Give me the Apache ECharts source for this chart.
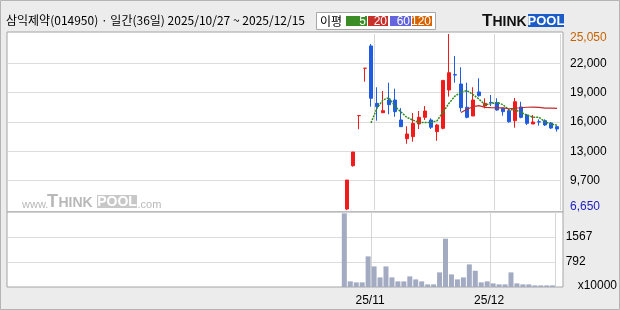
<!DOCTYPE html>
<html><head><meta charset="utf-8">
<script src="https://cdn.jsdelivr.net/npm/echarts@6/dist/echarts.min.js"></script>
<style>html,body{margin:0;padding:0;background:#ececec}#c{width:620px;height:310px}</style>
</head><body><div id="c"></div>
<script>
// ---- data ----
const dates = ['10/27','10/28','10/29','10/30','10/31','11/03','11/04','11/05','11/06','11/07','11/10','11/11','11/12','11/13','11/14','11/17','11/18','11/19','11/20','11/21','11/24','11/25','11/26','11/27','11/28','12/01','12/02','12/03','12/04','12/05','12/08','12/09','12/10','12/11','12/12','12/15'];
const openP  = [6750,11280,16520,21470,23800,17800,16820,18150,18150,16060,14100,14320,15640,16340,16060,14840,15190,19200,20800,19820,17390,16480,18990,17520,17900,17870,17280,17030,15990,17420,16580,15640,15880,15990,15750,15360];
const closeP = [9780,12710,16520,21470,18330,17450,17030,17660,16930,15360,14600,15710,16340,17000,15300,15540,20200,21000,20760,17350,16340,18150,18600,17800,17850,17100,16930,15880,17970,16340,15710,15850,15850,15540,15220,15120];
const lowP   = [6650,11180,15100,20060,17450,15990,16820,16660,16400,15360,13580,13790,15120,16060,15120,13890,15090,18500,19960,16930,16240,16480,18500,17280,17520,17030,16510,15780,15250,16240,15540,15640,15460,15430,15120,14840];
const highP  = [9780,12710,16520,21470,24000,19480,19090,19960,19330,17300,15400,16790,17000,17520,16240,15650,20200,25050,22750,21570,19960,19480,20420,18330,18670,18330,17350,17100,18360,17970,16690,16580,16130,16130,15850,15460];
const volume = [2300,191,160,160,966,655,315,655,315,191,191,346,253,191,98,98,470,1514,408,253,315,718,522,160,191,129,98,98,470,129,98,98,67,67,67,67];
const ma5  = [null,null,null,null,15762,17296,18160,18388,17480,16886,16316,16052,15788,15802,15790,15978,16876,17808,18560,18970,19130,18720,18240,17648,17748,17900,17656,17112,17146,16844,16566,16350,16344,15858,15634,15516];
const ma20 = [null,null,null,null,null,null,null,null,null,null,null,null,null,null,null,null,null,null,null,16852,17180,17452,17556,17373,17349,17331,17326,17237,17289,17338,17394,17401,17376,17303,17299,17278];
const priceTickLabels = ['6,650','9,700','13,000','16,000','19,000','22,000','25,050'];
const priceMin = 6650, priceMax = 25050;
const volTickLabels = ['x10000','792','1567',''];
const volMin = 17, volMax = 2342;
const monthTickDates = ['11/03','12/01'];
const monthTickLabels = ['25/11','25/12'];
const maLegend = ['5','20','60','120'];
const titleText = '삼익제약(014950) · 일간(36일) 2025/10/27 ~ 2025/12/15';

// ---- build ----
const PAD = 56; // empty day slots to the left of the first candle
const cats = Array.from({length: PAD}, (_, i) => 'pad' + i).concat(dates);
const pad = arr => Array(PAD).fill('-').concat(arr.map(v => v == null ? '-' : v));
const candles = Array(PAD).fill(['-','-','-','-']).concat(dates.map((d, i) => [openP[i], closeP[i], lowP[i], highP[i]]));
const isMonth = idx => idx >= PAD && monthTickDates.indexOf(cats[idx]) >= 0;

const UP = '#f01c1c', DOWN = '#1f5ce2';
const LBL = 'Liberation Sans';
const KR = '"Noto Sans CJK KR"';
const legendColors = ['#3c8c28', '#c8302c', '#6464dc', '#d86400'];
const legendX = [346, 368, 390, 412];
const legendW = [21, 20, 21, 20];

const graphics = [
  {type: 'rect', shape: {x: 0.5, y: 0.5, width: 619, height: 309}, style: {fill: 'none', stroke: '#b4b4b4', lineWidth: 1}, silent: true},
  {type: 'rect', shape: {x: 316.5, y: 12.5, width: 119, height: 17}, style: {fill: '#fff', stroke: '#a8a8a8', lineWidth: 1}},
  {type: 'text', x: 320, y: 21, style: {text: '이평', font: '12px ' + KR, fill: '#000', verticalAlign: 'middle', textVerticalAlign: 'middle'}},
];
maLegend.forEach((t, i) => {
  graphics.push({type: 'rect', shape: {x: legendX[i], y: 16, width: legendW[i], height: 10}, style: {fill: legendColors[i]}});
  graphics.push({type: 'text', x: legendX[i] + legendW[i] - 1, y: 21.5, style: {text: t, font: '12px ' + LBL, fill: '#fff', align: 'right', textAlign: 'right', verticalAlign: 'middle', textVerticalAlign: 'middle'}});
});
// ThinkPool logo (top right)
graphics.push(
  {type: 'text', x: 482, y: 21, style: {text: 'T', font: 'bold 17px ' + LBL, fill: '#111', verticalAlign: 'middle', textVerticalAlign: 'middle'}},
  {type: 'text', x: 492.5, y: 22.5, style: {text: 'HINK', font: 'bold 14px ' + LBL, fill: '#111', verticalAlign: 'middle', textVerticalAlign: 'middle'}},
  {type: 'rect', shape: {x: 528, y: 14, width: 36, height: 13}, style: {fill: '#1c5cc8'}},
  {type: 'text', x: 546, y: 21, style: {text: 'POOL', font: 'bold 13px ' + LBL, fill: '#fff', align: 'center', textAlign: 'center', verticalAlign: 'middle', textVerticalAlign: 'middle'}}
);
// watermark
const WM = '#b8b8b8';
graphics.push(
  {type: 'text', x: 22, y: 205, style: {text: 'www.', font: '11px ' + LBL, fill: WM, verticalAlign: 'middle', textVerticalAlign: 'middle'}},
  {type: 'text', x: 47, y: 202, style: {text: 'T', font: 'bold 18px ' + LBL, fill: WM, verticalAlign: 'middle', textVerticalAlign: 'middle'}},
  {type: 'text', x: 58.5, y: 203.5, style: {text: 'HINK', font: 'bold 14px ' + LBL, fill: WM, verticalAlign: 'middle', textVerticalAlign: 'middle'}},
  {type: 'rect', shape: {x: 97, y: 195, width: 40, height: 13}, style: {fill: '#c8c8c8'}},
  {type: 'text', x: 117, y: 202, style: {text: 'POOL', font: 'bold 14px ' + LBL, fill: '#fff', align: 'center', textAlign: 'center', verticalAlign: 'middle', textVerticalAlign: 'middle'}},
  {type: 'text', x: 137.5, y: 205, style: {text: '.com', font: '11px ' + LBL, fill: WM, verticalAlign: 'middle', textVerticalAlign: 'middle'}}
);

const chart = echarts.init(document.getElementById('c'), null, {renderer: 'canvas'});
const hiddenX = (gi, showLabels) => ({
  type: 'category', gridIndex: gi, data: cats, boundaryGap: true,
  axisLine: {show: false}, axisTick: {show: false},
  splitLine: {show: true, interval: (i) => isMonth(i), lineStyle: {color: '#d6d6d6', width: 1}},
  axisLabel: showLabels ? {
    show: true, interval: (i) => isMonth(i), margin: 8, fontSize: 12, fontFamily: LBL, color: '#000',
    padding: [0, 8, 0, 0],
    formatter: (v) => monthTickLabels[monthTickDates.indexOf(v)] || ''
  } : {show: false}
});

chart.setOption({
  animation: false,
  backgroundColor: '#ececec',
  title: {text: titleText, left: 6, top: 14, padding: 0,
    textStyle: {fontSize: 12, fontWeight: 'normal', color: '#000', fontFamily: KR}},
  grid: [
    {left: 8, top: 34, width: 552, height: 176, show: false},
    {left: 8, top: 212, width: 552, height: 75, show: false},
    {left: 7, top: 32, width: 556, height: 180, show: true, backgroundColor: '#fff', borderColor: '#a4a4a4', borderWidth: 1},
    {left: 7, top: 212, width: 556, height: 75, show: true, backgroundColor: '#fff', borderColor: '#a4a4a4', borderWidth: 1}
  ],
  xAxis: [hiddenX(0, false), hiddenX(1, true)],
  yAxis: [
    {type: 'value', gridIndex: 0, min: priceMin, max: priceMax, show: false},
    {type: 'value', gridIndex: 0, position: 'right', min: 0, max: priceTickLabels.length - 1, interval: 1,
      axisLine: {show: false}, axisTick: {show: false},
      splitLine: {show: true, showMinLine: false, showMaxLine: false, lineStyle: {color: '#dcdcdc', width: 1}},
      axisLabel: {margin: 10, fontSize: 12, fontFamily: LBL, color: '#000',
        formatter: (v) => {
          const i = Math.round(v); const t = priceTickLabels[i];
          if (i === priceTickLabels.length - 1) return '{mx|' + t + '}';
          if (i === 0) return '{mn|' + t + '}';
          return t;
        },
        rich: {mx: {color: '#c86400', fontSize: 12, fontFamily: LBL, padding: [7, 0, 0, 0]},
               mn: {color: '#1c1cc0', fontSize: 12, fontFamily: LBL, padding: [0, 0, 7, 0]}}}},
    {type: 'value', gridIndex: 1, min: volMin, max: volMax, show: false},
    {type: 'value', gridIndex: 1, position: 'right', min: 0, max: volTickLabels.length - 1, interval: 1,
      axisLine: {show: false}, axisTick: {show: false},
      splitLine: {show: true, showMinLine: false, showMaxLine: false, lineStyle: {color: '#dcdcdc', width: 1}},
      axisLabel: {margin: 10, fontSize: 12, fontFamily: LBL, color: '#000',
        formatter: (v) => { const i = Math.round(v); return i === 0 ? '{u|' + volTickLabels[0] + '}' : volTickLabels[i]; },
        rich: {u: {fontSize: 12, fontFamily: LBL, color: '#000', padding: [0, 0, 2, 12]}}}}
  ],
  series: [
    {type: 'candlestick', xAxisIndex: 0, yAxisIndex: 0, data: candles, barWidth: 4,
      itemStyle: {color: UP, color0: DOWN, borderColor: UP, borderColor0: DOWN, borderWidth: 1}},
    {type: 'line', xAxisIndex: 0, yAxisIndex: 0, data: pad(ma5), symbol: 'none', connectNulls: false,
      lineStyle: {color: '#2f8a1c', width: 1.5, type: [2, 1]}},
    {type: 'line', xAxisIndex: 0, yAxisIndex: 0, data: pad(ma20), symbol: 'none',
      lineStyle: {color: '#c02a2a', width: 1.2}},
    {type: 'bar', xAxisIndex: 1, yAxisIndex: 2, data: pad(volume), barWidth: 5,
      itemStyle: {color: '#a3abc3'}}
  ],
  graphic: graphics
});
</script></body></html>
